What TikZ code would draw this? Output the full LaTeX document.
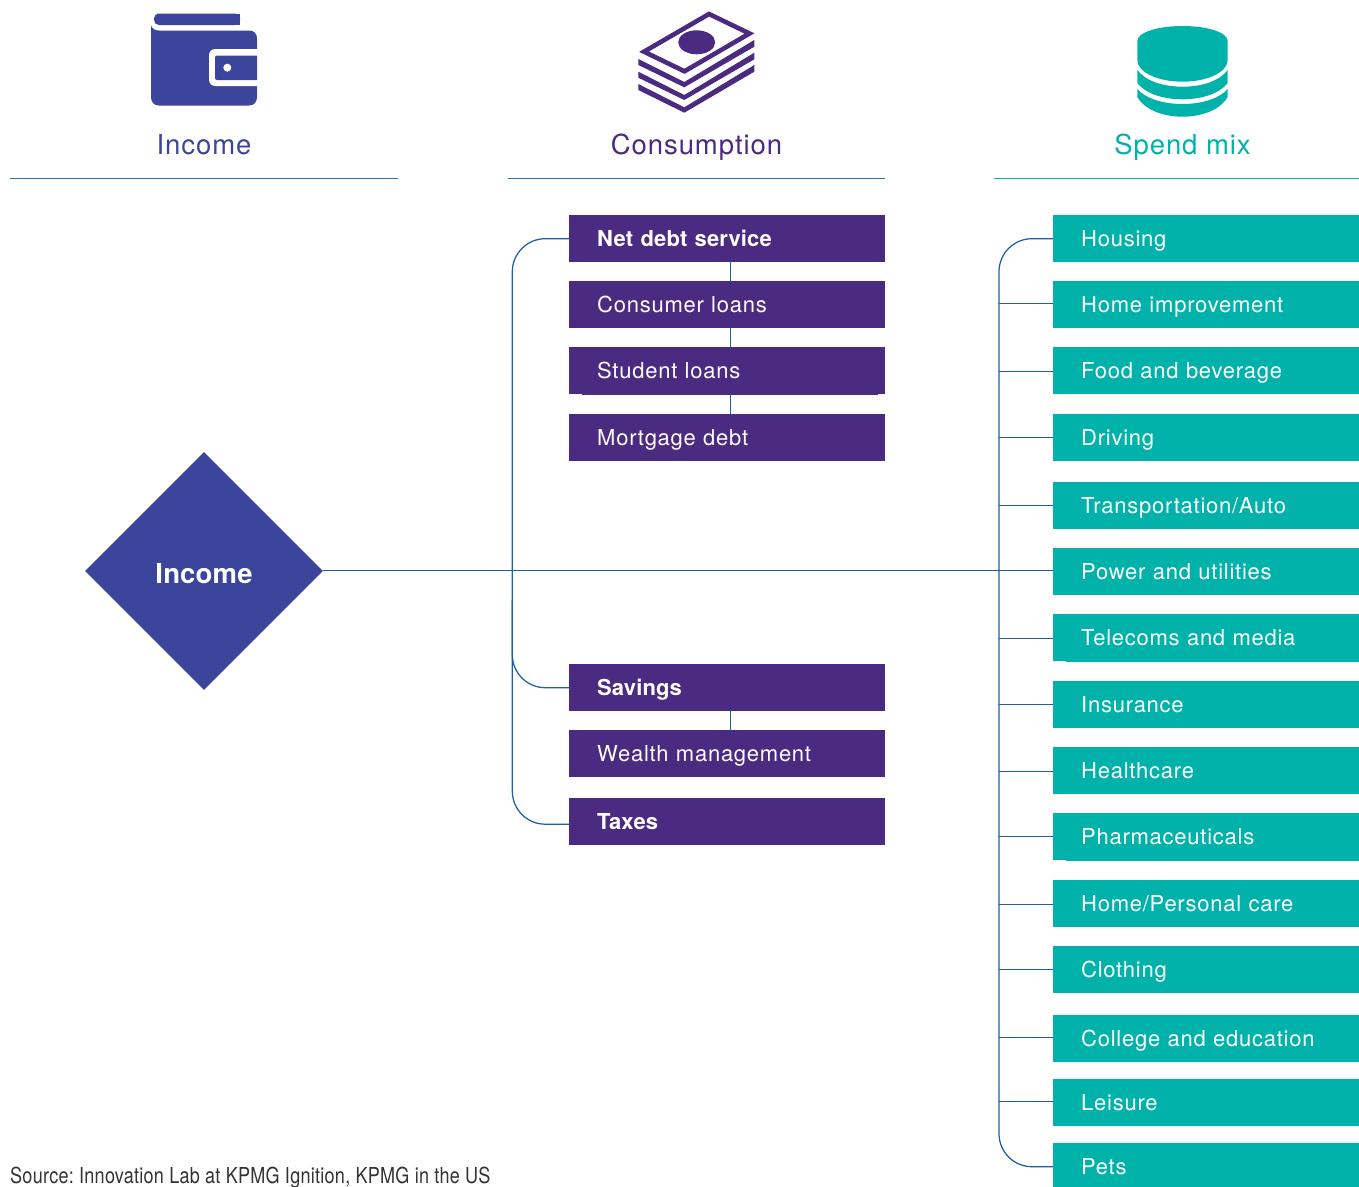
\documentclass[tikz,border=0pt]{standalone}
\usepackage{fontspec}
\setmainfont[LetterSpace=3.4,BoldFeatures={LetterSpace=0.6}]{TeX Gyre Heros}
\newfontfamily\condfont[FakeStretch=0.82,LetterSpace=1.2]{TeX Gyre Heros}
\usetikzlibrary{shapes.geometric}
\definecolor{indigo}{HTML}{3A459B}
\definecolor{plum}{HTML}{4B2A82}
\definecolor{teal}{HTML}{00B2A9}
\definecolor{linkblue}{HTML}{1A5FA8}
\definecolor{ruleblue}{HTML}{2477BA}
\definecolor{srcgrey}{HTML}{333333}
\tikzset{
  itembox/.style={anchor=north west,minimum width=#1,minimum height=47pt,inner xsep=28pt,inner ysep=0pt,
    text width=#1-56pt,align=left,text height=18pt,text depth=3pt,text=white,
    font=\fontsize{22}{26}\selectfont},
  plumbox/.style={itembox=316pt,fill=plum},
  tealbox/.style={itembox=306pt,fill=teal},
  headtxt/.style={font=\fontsize{27.5}{32}\selectfont,inner sep=0pt,anchor=base},
  conn/.style={draw=linkblue,line width=1.25pt},
  roundconn/.style={conn,rounded corners=33pt},
  rulel/.style={line width=1.3pt},
}
\begin{document}
\begin{tikzpicture}[x=1pt,y=-1pt]
\clip (0,0) rectangle (1359,1186);
\useasboundingbox (0,0) rectangle (1359,1186);

% wallet icon
\fill[indigo,rounded corners=5pt] (240,13.5) -- (160,13.5) -- (154,13.5) -- (154,25) -- (240,25) -- cycle;
\fill[indigo] (240,13.5) rectangle (230,25);
\fill[indigo] (151,25.5) .. controls (152.5,29) and (155,30.5) .. (159,30.5) -- (249,30.5)
  .. controls (254,30.5) and (257,33.5) .. (257,38.5) -- (257,97)
  .. controls (257,102) and (254,105.5) .. (249,105.5) -- (159,105.5)
  .. controls (154,105.5) and (151,102) .. (151,97) -- cycle;
\fill[white,rounded corners=6pt] (258,49) -- (209,49) -- (209,86) -- (258,86) -- (262,86) -- (262,49) -- cycle;
\fill[indigo,rounded corners=2pt] (257,55.5) -- (215,55.5) -- (215,80) -- (257,80);
\fill[indigo] (240,55.5) rectangle (257,80);
\fill[white] (227.3,67.7) circle[radius=4pt];

% money icon
\draw[plum,line width=4.6pt,line join=miter,miter limit=10] (709,14) -- (749.5,33.5) -- (684.5,71.3) -- (644,51.7) -- cycle;
\fill[plum] (696.7,42.3) ellipse[x radius=18.5pt,y radius=12pt];
\fill[plum] (638.3,59) -- (684.3,82) -- (754.3,40) -- (754.3,46.7) -- (684.3,87.3) -- (638.3,65) -- cycle;
\fill[plum] (638.3,71.7) -- (684.3,95) -- (754.3,52.7) -- (754.3,59.3) -- (684.3,100) -- (638.3,77.7) -- cycle;
\fill[plum] (638.3,84) -- (684.3,107.3) -- (754.3,65) -- (754.3,71.7) -- (684.3,112.7) -- (638.3,90) -- cycle;

% database icon
\fill[teal] (1137.3,41) .. controls (1137.3,32.5) and (1157.5,26) .. (1182.5,26)
  .. controls (1207.5,26) and (1227.7,32.5) .. (1227.7,41) -- (1227.7,60)
  .. controls (1227.7,72) and (1207.5,81.7) .. (1182.5,81.7)
  .. controls (1157.5,81.7) and (1137.3,72) .. (1137.3,60) -- cycle;
\fill[teal] (1137.3,70) .. controls (1145,80.5) and (1162,86.7) .. (1182.5,86.7)
  .. controls (1203,86.7) and (1220,80.5) .. (1227.7,70) -- (1227.7,83)
  .. controls (1220,93) and (1203,99.3) .. (1182.5,99.3)
  .. controls (1162,99.3) and (1145,93) .. (1137.3,83) -- cycle;
\fill[teal] (1137.3,89) .. controls (1145,98) and (1162,104) .. (1182.5,104)
  .. controls (1203,104) and (1220,98) .. (1227.7,89) -- (1227.7,97)
  .. controls (1221,109) and (1203,116.7) .. (1182.5,116.7)
  .. controls (1162,116.7) and (1144,109) .. (1137.3,97) -- cycle;

% headings
\node[headtxt,text=indigo] (hIncome) at (204,154) {Income};
\node[headtxt,text=plum] (hCons) at (696.5,154) {Consumption};
\node[headtxt,text=teal] (hSpend) at (1182.5,154) {Spend mix};
\coordinate (ra1) at (10,178.7); \coordinate (ra2) at (398,178.7);
\coordinate (rb1) at (508,178.7); \coordinate (rb2) at (885,178.7);
\coordinate (rc1) at (994,178.7); \coordinate (rc2) at (1359,178.7);
\draw[rulel,draw=ruleblue] (ra1) -- (ra2);
\draw[rulel,draw=ruleblue] (rb1) -- (rb2);
\draw[rulel,draw=teal] (rc1) -- (rc2);

% diamond
\node[diamond,fill=indigo,text=white,minimum width=238pt,minimum height=238pt,inner sep=0pt,
  font=\fontsize{27.5}{32}\selectfont\bfseries] (inc) at (204,571) {\raisebox{-12pt}[0pt][0pt]{Income}};

% purple boxes
\node[plumbox] (net) at (569,215) {\textbf{Net debt service}};
\node[plumbox] (cons) at (569,281) {Consumer loans};
\fill[plum] (582,393) rectangle (878,395);
\node[plumbox] (stud) at (569,347) {Student loans};
\node[plumbox] (mort) at (569,414) {Mortgage debt};
\node[plumbox] (sav) at (569,664) {\textbf{Savings}};
\node[plumbox] (wealth) at (569,730) {Wealth management};
\node[plumbox] (tax) at (569,798) {\textbf{Taxes}};

% teal boxes
\node[tealbox] (s1) at (1053,215) {Housing};
\node[tealbox] (s2) at (1053,281) {Home improvement};
\node[tealbox] (s3) at (1053,347) {Food and beverage};
\node[tealbox] (s4) at (1053,414) {Driving};
\node[tealbox] (s5) at (1053,482) {Transportation/Auto};
\node[tealbox] (s6) at (1053,548) {Power and utilities};
\fill[teal] (1066,660) rectangle (1359,662);
\node[tealbox] (s7) at (1053,614) {Telecoms and media};
\node[tealbox] (s8) at (1053,681) {Insurance};
\node[tealbox] (s9) at (1053,747) {Healthcare};
\fill[teal] (1066,859) rectangle (1359,861);
\node[tealbox] (s10) at (1053,813) {Pharmaceuticals};
\node[tealbox] (s11) at (1053,880) {Home/Personal care};
\node[tealbox] (s12) at (1053,946) {Clothing};
\node[tealbox] (s13) at (1053,1015) {College and education};
\node[tealbox] (s14) at (1053,1079) {Leisure};
\node[tealbox] (s15) at (1053,1143) {Pets};

% connectors: left group
\coordinate (lx) at (512.3,600);
\coordinate (vx) at (730.5,0);
\coordinate (rx) at (999,0);
\draw[conn] (vx |- net.south) -- (vx |- cons.north);
\draw[conn] (vx |- cons.south) -- (vx |- stud.north);
\draw[conn] (vx |- stud.south) -- (vx |- mort.north);
\draw[conn] (vx |- sav.south) -- (vx |- wealth.north);
\draw[roundconn] (net.west) -| (lx) |- ([yshift=-2.5pt]tax.west);
\draw[roundconn] (sav.west) -| (lx);
\draw[conn] ([yshift=.4pt]inc.east) -- ([yshift=.4pt]inc.east -| s6.west);

% connectors: right group
\draw[roundconn] (s1.west) -| (rx |- s8.west) |- (s15.west);
\foreach \n/\d in {s2/1.5,s3/-.5,s4/.5,s5/.5,s7/-.5,s8/.5,s9/-.5,s10/.5,s11/-.5,s12/.5,s13/1.5,s14/1.5}{
  \draw[conn] ([yshift=\d pt]\n.west) -- ([yshift=\d pt]\n.west -| rx);
}

% source
\node[anchor=base west,inner sep=0pt,text=srcgrey,font=\condfont\fontsize{22}{26}\selectfont\frenchspacing] (src) at (10,1183) {Source: Innovation Lab at KPMG Ignition, KPMG in the US};
\end{tikzpicture}
\end{document}
